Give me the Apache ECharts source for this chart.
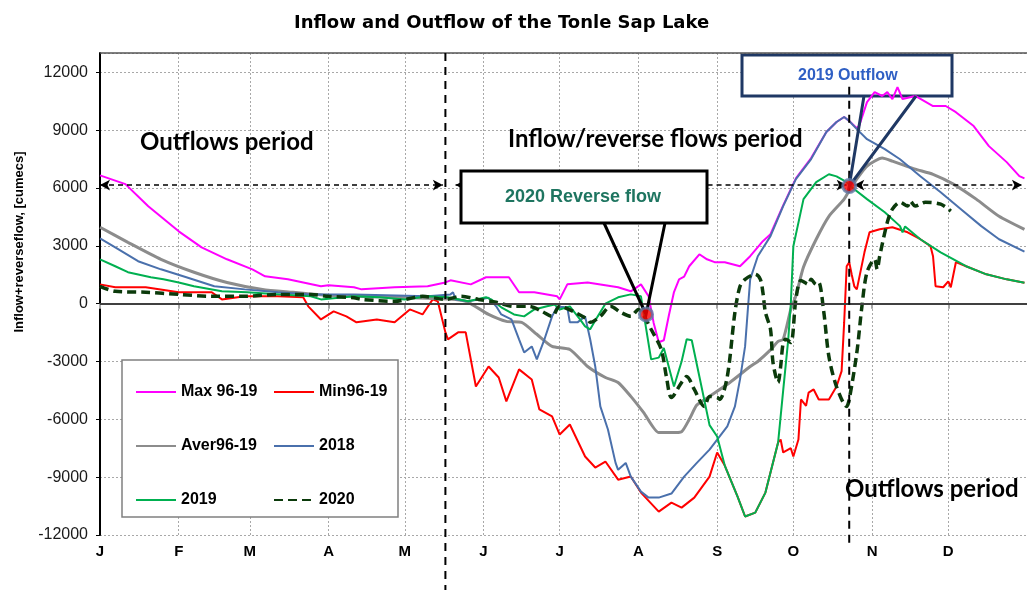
<!DOCTYPE html>
<html><head><meta charset="utf-8">
<script src="https://cdn.jsdelivr.net/npm/echarts@6/dist/echarts.min.js"></script>
<style>html,body{margin:0;padding:0;background:#fff}#c{width:1027px;height:590px}</style>
</head><body><div id="c"></div>
<script>
// ---------- data ----------
const monthStarts = [0,31,59,90,120,151,181,212,243,273,304,334];
const monthLabels = ['J','F','M','A','M','J','J','A','S','O','N','D'];
const days = Array.from({length:366}, (_, i) => String(i));
const yMin = -12000, yMax = 13000, yStep = 3000;

const maxSeries = [[0,6650],[10,6200],[19,5050],[31,3750],[40,2920],[50,2300],[60,1780],[65,1420],[74,1260],[87,900],[90,950],[100,850],[103,740],[116,850],[129,900],[136,1100],[138,1210],[146,1000],[152,1370],[161,1370],[165,590],[171,590],[180,380],[181,220],[184,1000],[192,1100],[204,850],[209,640],[213,1000],[216,380],[218,-1000],[220,-2000],[222,-1900],[224,-600],[226,600],[228,1260],[230,1400],[232,1940],[236,2560],[239,2300],[242,2150],[246,2150],[252,1940],[256,2460],[261,3240],[264,3600],[269,5100],[274,6500],[280,7550],[286,8900],[290,9420],[293,9680],[295,9470],[298,9100],[299,9250],[302,10450],[305,10970],[308,10770],[310,10970],[312,10610],[314,11230],[316,10610],[321,10770],[328,10250],[333,10250],[337,9930],[344,9210],[350,8170],[357,7340],[362,6610],[364,6500]];
const minSeries = [[0,1000],[6,850],[18,850],[31,590],[44,590],[48,220],[57,380],[70,380],[80,330],[82,-140],[87,-820],[92,-400],[97,-660],[101,-970],[109,-820],[116,-970],[122,-300],[127,-560],[131,220],[133,120],[136,-1490],[137,-1850],[141,-1490],[144,-1490],[148,-4300],[153,-3260],[157,-3830],[160,-5070],[165,-3410],[170,-3930],[173,-5490],[178,-5850],[181,-6790],[185,-6270],[191,-7930],[195,-8500],[199,-8190],[204,-9130],[209,-8970],[213,-9800],[220,-10790],[225,-10320],[229,-10580],[234,-10060],[240,-8970],[243,-7720],[246,-8400],[251,-10000],[254,-11040],[258,-10840],[262,-9800],[267,-7200],[268,-7050],[269,-7720],[272,-7500],[273,-7930],[275,-7050],[276,-4970],[278,-5300],[279,-4620],[281,-4450],[283,-4970],[287,-4970],[290,-4300],[292,-3500],[293,-1000],[294,1940],[295,2150],[296,1500],[297,900],[298,740],[301,2660],[303,3700],[307,3860],[312,3960],[318,3700],[323,3340],[327,2980],[328,2460],[329,900],[332,850],[334,1160],[335,850],[337,2150],[341,1940],[349,1520],[357,1260],[364,1080]];
const averSeries = [[0,3960],[11,3180],[24,2300],[37,1630],[50,1100],[64,740],[76,590],[89,430],[100,380],[129,275],[140,220],[145,70],[153,-560],[160,-920],[166,-970],[172,-1590],[178,-2220],[185,-2380],[192,-3260],[199,-3830],[204,-4090],[209,-4810],[214,-5640],[220,-6690],[225,-6690],[229,-6640],[232,-6010],[235,-5260],[240,-4810],[248,-4090],[256,-3260],[259,-3000],[264,-2400],[267,-1960],[269,-1850],[272,-300],[274,400],[277,1900],[282,3340],[287,4530],[293,5420],[296,6090],[302,7130],[308,7550],[312,7390],[321,6980],[328,6710],[336,6200],[345,5420],[354,4530],[364,3850]];
const s2018 = [[0,3390],[6,2920],[15,2200],[24,1780],[34,1370],[45,900],[57,740],[70,590],[83,480],[100,480],[129,380],[138,480],[139,590],[140,220],[145,120],[153,300],[156,-140],[158,-560],[162,-820],[165,-1850],[167,-2530],[170,-2220],[172,-2890],[175,-1850],[178,-660],[180,-160],[184,-190],[185,-970],[188,-970],[191,-660],[193,-1850],[195,-3260],[197,-5330],[200,-6530],[203,-8260],[204,-8620],[207,-8260],[209,-8970],[213,-9750],[216,-10060],[220,-10060],[225,-9850],[230,-8970],[235,-8260],[240,-7570],[244,-6890],[247,-6370],[250,-5330],[252,-3930],[254,-2220],[255,-450],[256,1260],[259,2460],[264,3500],[269,5060],[274,6460],[280,7500],[286,8900],[290,9420],[293,9680],[295,9470],[298,9050],[302,8530],[309,8010],[315,7490],[323,6610],[331,5780],[339,4900],[347,4020],[354,3340],[364,2700]];
const s2019 = [[0,2300],[6,1940],[11,1630],[20,1370],[25,1260],[31,1100],[37,900],[48,640],[58,590],[71,480],[83,380],[87,220],[100,380],[110,330],[120,220],[129,380],[137,330],[145,120],[152,330],[154,220],[158,-190],[163,-560],[167,-660],[171,-300],[176,-140],[179,-50],[181,-300],[185,-140],[189,-820],[191,-1180],[193,-1330],[196,-660],[199,0],[204,330],[209,480],[213,380],[214,-450],[217,-2890],[220,-2800],[222,-2300],[226,-4300],[229,-3000],[231,-1850],[233,-1900],[236,-3780],[240,-6300],[243,-6890],[246,-8400],[251,-10000],[254,-11040],[258,-10840],[262,-9800],[267,-7200],[269,-4500],[271,-1850],[272,0],[273,2980],[277,5420],[282,6300],[287,6710],[290,6600],[294,6300],[296,6040],[302,5420],[309,4740],[315,4020],[316,3700],[317,4000],[323,3340],[331,2660],[341,1940],[349,1520],[357,1260],[364,1080]];
const s2020 = [[0,900],[6,640],[18,590],[31,480],[44,380],[57,380],[70,480],[83,480],[90,380],[100,300],[103,220],[116,120],[127,380],[136,220],[142,380],[149,220],[156,70],[163,-140],[169,-140],[174,-400],[178,-660],[181,-140],[187,-450],[192,-820],[193,-970],[197,-660],[201,-140],[205,-450],[209,-660],[212,-300],[214,-600],[217,-1330],[221,-2380],[223,-3780],[225,-4870],[229,-4090],[231,-3780],[234,-4450],[238,-5330],[240,-4810],[243,-4870],[244,-4970],[247,-3780],[250,-450],[252,900],[254,1260],[258,1520],[260,1260],[261,590],[262,-450],[264,-1330],[265,-3060],[267,-4090],[268,-3260],[269,-2020],[270,-1850],[272,-2020],[274,220],[276,1200],[279,1000],[280,1260],[282,1000],[283,1100],[285,-450],[287,-2740],[290,-4300],[294,-5330],[295,-4970],[298,-2540],[300,-140],[302,1630],[305,2300],[306,1780],[307,2460],[310,4220],[312,4900],[315,5260],[318,5060],[319,5320],[321,5060],[325,5260],[331,5160],[335,4800]];
const markers = [[215,-560],[295,6100]];
const arrowLevel = 6150;
const arrowSpans = [[0,135],[140,294],[297,363]];
const dividerDays = [136, 295];

// ---------- chart ----------
const chart = echarts.init(document.getElementById('c'), null, {renderer:'canvas'});
const isMonth = i => monthStarts.indexOf(i) >= 0;
const lineSeries = (name, data, color, width, extra) => Object.assign({
  name, type:'line', data, symbol:'none', showSymbol:false,
  lineStyle:{color, width}, itemStyle:{color}, emphasis:{disabled:true}, z:2
}, extra || {});
const legendText = {fontFamily:'Liberation Sans', fontWeight:'bold', fontSize:16, color:'#000'};

const option = {
  animation:false,
  backgroundColor:'#fff',
  title:{text:'Inflow and Outflow of the Tonle Sap Lake', left:289, top:9,
    textStyle:{fontFamily:'DejaVu Sans', fontWeight:'bold', fontSize:18, color:'#000'}},
  grid:{left:100, top:53, width:931, height:482},
  xAxis:{type:'category', data:days, boundaryGap:false,
    axisLine:{lineStyle:{color:'#a6a6a6', width:2}},
    axisTick:{interval:(i)=>isMonth(i), length:5, lineStyle:{color:'#a6a6a6', width:2}},
    axisLabel:{interval:(i)=>isMonth(i), formatter:(v)=>monthLabels[monthStarts.indexOf(Number(v))] || '',
      fontFamily:'Liberation Sans', fontWeight:'bold', fontSize:15, color:'#000', margin:9},
    splitLine:{show:true, interval:(i)=>isMonth(i), lineStyle:{color:'#a8a8a8', type:[2,2], width:1}}},
  yAxis:{type:'value', min:yMin, max:yMax, interval:yStep,
    axisLine:{show:true, lineStyle:{color:'#000', width:2}},
    axisTick:{show:true, length:4, lineStyle:{color:'#000'}},
    axisLabel:{showMaxLabel:false, formatter:(v)=>String(v), fontFamily:'Liberation Sans', fontSize:16, color:'#1a1a1a', margin:12},
    splitLine:{lineStyle:{color:'#a8a8a8', type:[2,2]}}},
  legend:[
    {orient:'vertical', left:130, top:379, itemWidth:40, itemHeight:14, itemGap:38, selectedMode:false, z:20,
      itemStyle:{opacity:0}, data:['Max 96-19','Aver96-19','2019'], textStyle:legendText},
    {orient:'vertical', left:268, top:379, itemWidth:40, itemHeight:14, itemGap:38, selectedMode:false, z:20,
      itemStyle:{opacity:0}, data:['Min96-19','2018','2020'], textStyle:legendText}
  ],
  series:[
    lineSeries('Max 96-19', maxSeries, '#FF00FF', 2, {markLine:{silent:true, symbol:'none', label:{show:false},
      lineStyle:{color:'#404040', width:2, type:'solid'}, data:[{yAxis:0}]}}),
    lineSeries('Min96-19', minSeries, '#FF0000', 2),
    lineSeries('Aver96-19', averSeries, '#8C8C8C', 3, {smooth:0.2}),
    lineSeries('2018', s2018, '#4A70AC', 2),
    lineSeries('2019', s2019, '#00B050', 2),
    lineSeries('2020', s2020, '#0B3A0B', 3.5, {smooth:0.3, lineStyle:{color:'#0B3A0B', width:3.5, type:[9,5]},
      markLine:{silent:true, symbol:['arrow','arrow'], symbolSize:[8,10], label:{show:false},
        lineStyle:{color:'#000', width:1.5, type:[5,4]},
        data: arrowSpans.map(s => [{coord:[s[0], arrowLevel]}, {coord:[s[1], arrowLevel]}])}}),
    {type:'scatter', data:markers, symbolSize:13, z:12,
      itemStyle:{color:'#FF0000', borderColor:'#5B7BA8', borderWidth:3}}
  ]
};
chart.setOption(option);

const px = (d, v) => chart.convertToPixel({gridIndex:0}, [d, v]);
const tip1 = px(markers[0][0], markers[0][1]);
const tip2 = px(markers[1][0], markers[1][1]);
const topL = px(0, yMax), topR = px(365, yMax);
const v1a = px(dividerDays[0], yMax), v2a = px(dividerDays[1], 11250), v2b = px(dividerDays[1], -12500);
const periodFont = 'bold 24px Lato';

chart.setOption({graphic:[
  {type:'line', shape:{x1:topL[0], y1:topL[1], x2:topR[0], y2:topR[1]}, style:{stroke:'#555', lineWidth:1.5}, z:5},
  {type:'rect', shape:{x:742, y:55, width:210, height:41}, style:{fill:'#fff', stroke:'#1F3864', lineWidth:3}, z:1},
  {type:'line', shape:{x1:v1a[0], y1:v1a[1], x2:v1a[0], y2:590}, style:{stroke:'#000', lineWidth:2, lineDash:[8,6]}, z:6},
  {type:'line', shape:{x1:v2a[0], y1:v2a[1], x2:v2a[0], y2:v2b[1]}, style:{stroke:'#000', lineWidth:2, lineDash:[8,6]}, z:6},
  {type:'rect', shape:{x:461, y:171, width:246, height:52}, style:{fill:'#fff', stroke:'#000', lineWidth:3}, z:10},
  {type:'polyline', shape:{points:[[604,223], tip1, [665,223]]}, style:{stroke:'#000', lineWidth:3, fill:null}, z:10},
  {type:'text', x:505, y:197, style:{text:'2020 Reverse flow', fill:'#1E7560', font:'bold 18px "Liberation Sans"', align:'left', verticalAlign:'middle'}, z:11},
  {type:'polyline', shape:{points:[[864,96], tip2, [916,96]]}, style:{stroke:'#1F3864', lineWidth:3, fill:null}, z:10},
  {type:'text', x:798, y:76, style:{text:'2019 Outflow', fill:'#2F5FC4', font:'bold 16px "Liberation Sans"', align:'left', verticalAlign:'middle'}, z:11},
  {type:'text', x:140, y:142, style:{text:'Outflows period', fill:'#000', font:periodFont, align:'left', verticalAlign:'middle'}, z:11},
  {type:'text', x:508, y:139, style:{text:'Inflow/reverse flows period', fill:'#000', font:periodFont, align:'left', verticalAlign:'middle'}, z:11},
  {type:'text', x:845, y:489, style:{text:'Outflows period', fill:'#000', font:periodFont, align:'left', verticalAlign:'middle'}, z:11},
  {type:'text', x:19, y:242, rotation:Math.PI/2, style:{text:'Inflow+reverseflow, [cumecs]', fill:'#000', font:'bold 13px "Liberation Sans"', align:'center', verticalAlign:'middle'}, z:11},
  {type:'rect', shape:{x:122, y:360, width:276, height:157}, style:{fill:'#fff', stroke:'#808080', lineWidth:1.5}, z:15}
]});
</script></body></html>
